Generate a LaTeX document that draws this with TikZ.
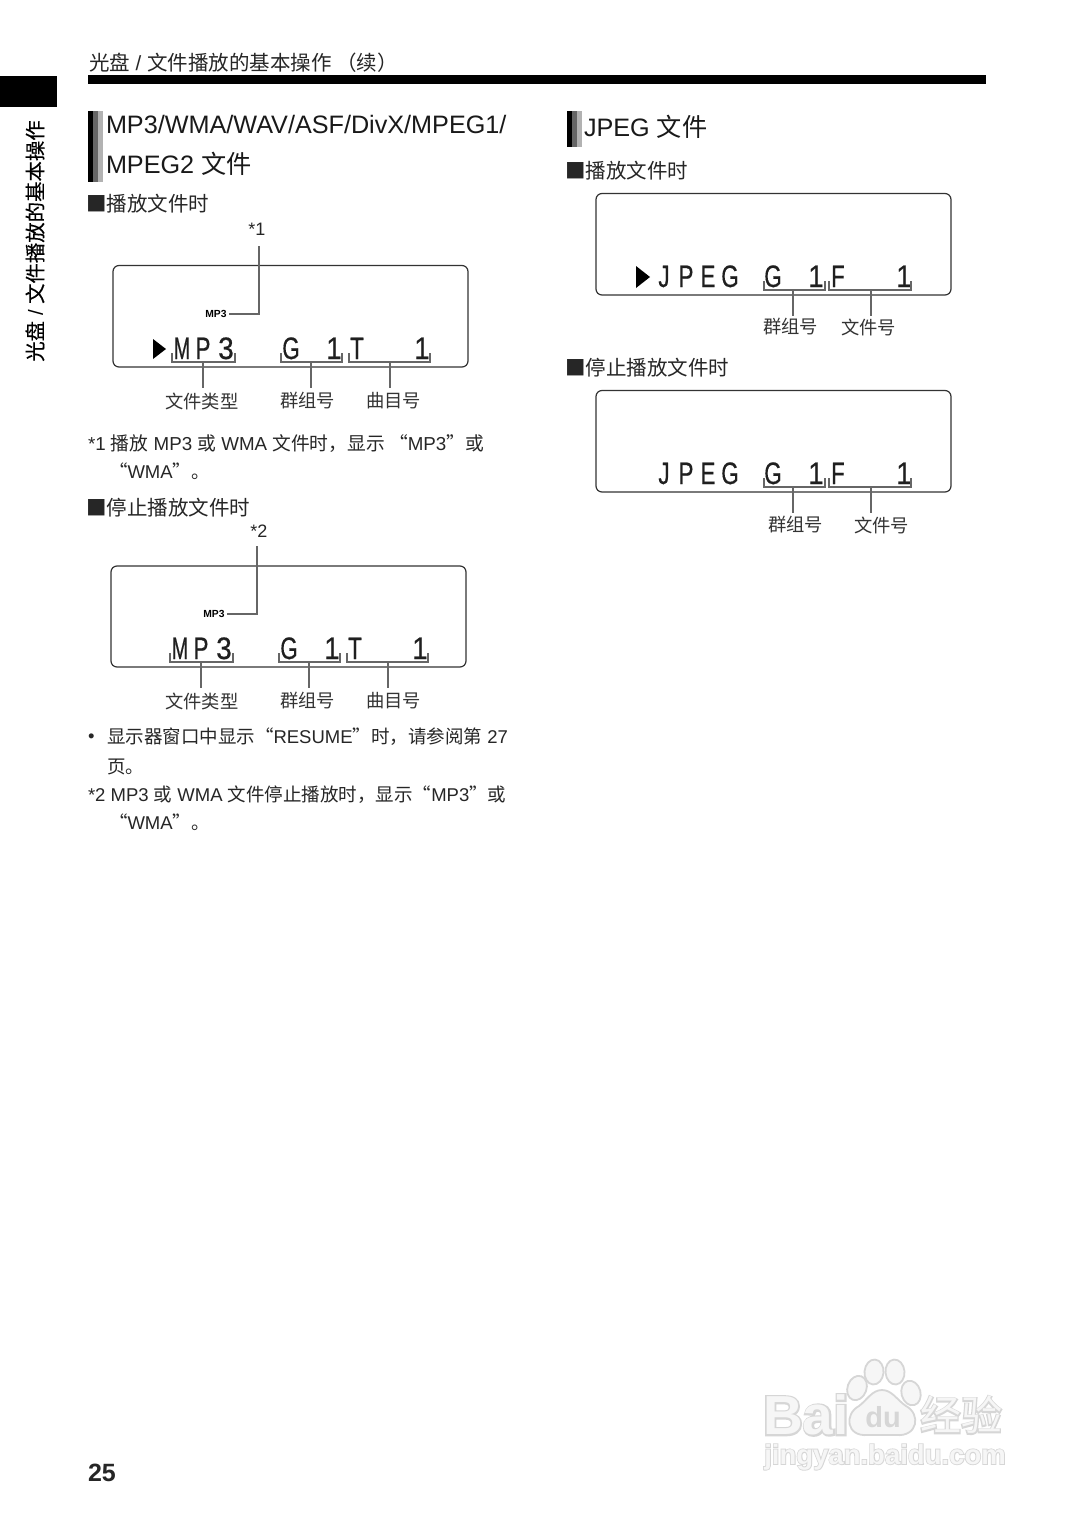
\documentclass[tikz,border=0pt]{standalone}
\usepackage{fontspec}
\setmainfont{Liberation Sans}
\newfontfamily\cjk{Noto Sans CJK SC}
\newfontfamily\cjkside[FakeBold=0.3]{Noto Sans CJK SC}
\newfontfamily\cjkfat[FakeBold=6]{Noto Sans CJK SC}
\newfontfamily\latfat[FakeBold=6,UprightFont=* Bold]{Liberation Sans}
\newfontfamily\lcdfont[FakeBold=0.6]{Liberation Sans}
\definecolor{lead}{HTML}{666666}
\definecolor{boxc}{HTML}{333333}
\definecolor{wm}{HTML}{D6D6D6}
\definecolor{wmin}{HTML}{F6F6F6}
\newcommand{\sz}[1]{\fontsize{#1}{#1}\selectfont}
\newcommand{\Z}[1]{{\cjk #1}}
\newcommand{\lm}[1]{\scalebox{0.64}[1]{#1}}
\newcommand{\lc}[1]{\scalebox{0.72}[1]{#1}}
\newcommand{\ld}[1]{\scalebox{0.9}[1]{#1}}
\tikzset{
  x=1pt,y=-1pt,
  txt/.style={anchor=west,inner sep=0pt,outer sep=0pt,text=black!85},
  lcdbox/.style={draw=boxc,line width=1.2pt,rounded corners=6pt},
  lcd/.style={anchor=base,inner sep=0pt,font=\sz{31}\lcdfont,text=black!88},
  lab/.style={anchor=center,inner sep=0pt,font=\sz{18.3}\cjk,text=black!80,yshift=-1pt,xshift=0.7pt},
  star/.style={anchor=center,inner sep=0pt,font=\sz{18},text=black!85},
  small/.style={anchor=center,inner sep=0pt,font=\sz{10.3}\bfseries},
  leader/.style={draw=lead,line width=1.6pt},
  head/.style={txt,font=\sz{25.2},text=black!90},
  sub/.style={txt,font=\sz{20.5}\cjk,yshift=-0.7pt},
  note/.style={txt,font=\sz{18.5},yshift=-0.7pt},
  tri/.style={fill=black,draw=none},
  wmt/.style={anchor=center,inner sep=0pt},
}
% #1 name #2 x1 #3 x2 #4 y-top #5 y-bottom
\newcommand{\brk}[5]{%
  \coordinate (#1a) at (#2,#4); \coordinate (#1b) at (#2,#5);
  \coordinate (#1c) at (#3,#5); \coordinate (#1d) at (#3,#4);
  \draw[leader] (#1a) -- (#1b) -- (#1c) -- (#1d);}
% #1 name #2 x #3 y-top #4 y-bottom
\newcommand{\ldr}[4]{%
  \coordinate (#1s) at (#2,#3); \coordinate (#1e) at (#2,#4);
  \draw[leader] (#1s) -- (#1e);}
\begin{document}
\begin{tikzpicture}
\useasboundingbox (0,0) rectangle (1074,1518);
\fill[white] (0,0) rectangle (1074,1518);

% header
\node[txt,font=\sz{20.5}] (hdr) at (89,63) {\Z{光盘} / \Z{文件播放的基本操作 （续）}};
\fill[black] (88,75) rectangle (986,84);
\fill[black] (0,76) rectangle (57,107);
\node[anchor=center,inner sep=0pt,font=\sz{20.4},rotate=90] (side) at (35,241) {{\cjkside 光盘} / {\cjkside 文件播放的基本操作}};

% heading bars
\fill[black] (88,111) rectangle (93,182);
\fill[black!60] (93,111) rectangle (98,182);
\fill[black!30] (98,111) rectangle (103,182);
\fill[black] (567,111) rectangle (572,147);
\fill[black!60] (572,111) rectangle (577,147);
\fill[black!30] (577,111) rectangle (582,147);

\node[head] (h1) at (106,124) {MP3/WMA/WAV/ASF/DivX/MPEG1/};
\node[head] (h2) at (106,164) {MPEG2 \Z{文件}};
\node[head] (h3) at (584,127) {JPEG \Z{文件}};

\node[sub] (s1) at (86,203) {■播放文件时};
\node[sub] (s2) at (86,507) {■停止播放文件时};
\node[sub] (s3) at (565,170) {■播放文件时};
\node[sub] (s4) at (565,367) {■停止播放文件时};

% display 1
\draw[lcdbox] (113,265.5) rectangle (468,367);
\fill[tri] (153,339) -- (166,349) -- (153,359) -- cycle;
\node[lcd] (a1) at (182,359) {\lm{M}};
\node[lcd] (a2) at (203,359) {\lc{P}};
\node[lcd] (a3) at (226,359) {\ld{3}};
\node[lcd] (a4) at (291,359) {\lc{G}};
\node[lcd] (a5) at (334,359) {\ld{1}};
\node[lcd] (a6) at (357,359) {\lc{T}};
\node[lcd] (a7) at (422,359) {\ld{1}};
\brk{ab1}{172}{235}{353}{362}
\brk{ab2}{281}{342}{353}{362}
\brk{ab3}{349}{430}{353}{362}
\ldr{al1}{203}{362}{388}
\ldr{al2}{311}{362}{388}
\ldr{al3}{390}{362}{388}
\node[lab] (at1) at (201,400) {文件类型};
\node[lab] (at2) at (307,400) {群组号};
\node[lab] (at3) at (393,400) {曲目号};
\node[small] (am) at (216,314) {MP3};
\node[star] (as) at (257,229) {*1};
\coordinate (am1) at (229,314);
\coordinate (am2) at (259,314);
\coordinate (am3) at (259,246);
\draw[leader] (am1) -- (am2) -- (am3);

% display 2
\draw[lcdbox] (111,566) rectangle (466,667);
\node[lcd] (b1) at (180,659) {\lm{M}};
\node[lcd] (b2) at (201,659) {\lc{P}};
\node[lcd] (b3) at (224,659) {\ld{3}};
\node[lcd] (b4) at (289,659) {\lc{G}};
\node[lcd] (b5) at (332,659) {\ld{1}};
\node[lcd] (b6) at (355,659) {\lc{T}};
\node[lcd] (b7) at (420,659) {\ld{1}};
\brk{bb1}{170}{233}{653}{662}
\brk{bb2}{279}{340}{653}{662}
\brk{bb3}{347}{428}{653}{662}
\ldr{bl1}{201}{662}{688}
\ldr{bl2}{309}{662}{688}
\ldr{bl3}{388}{662}{688}
\node[lab] (bt1) at (201,700) {文件类型};
\node[lab] (bt2) at (307,700) {群组号};
\node[lab] (bt3) at (393,700) {曲目号};
\node[small] (bm) at (214,614) {MP3};
\node[star] (bs) at (259,531) {*2};
\coordinate (bm1) at (227,614);
\coordinate (bm2) at (257,614);
\coordinate (bm3) at (257,546);
\draw[leader] (bm1) -- (bm2) -- (bm3);

% display 3
\draw[lcdbox] (596,193.5) rectangle (951,295);
\fill[tri] (636,266) -- (650,277) -- (636,288) -- cycle;
\node[lcd] (c1) at (664,287) {\lc{J}};
\node[lcd] (c2) at (686,287) {\lc{P}};
\node[lcd] (c3) at (708,287) {\lc{E}};
\node[lcd] (c4) at (730,287) {\lc{G}};
\node[lcd] (c5) at (773,287) {\lc{G}};
\node[lcd] (c6) at (816,287) {\ld{1}};
\node[lcd] (c7) at (838,287) {\lc{F}};
\node[lcd] (c8) at (904,287) {\ld{1}};
\brk{cb1}{764}{825}{281}{290}
\brk{cb2}{829}{911}{281}{290}
\ldr{cl1}{793}{290}{316}
\ldr{cl2}{871}{290}{316}
\node[lab] (ct1) at (790,326) {群组号};
\node[lab] (ct2) at (868,326) {文件号};

% display 4
\draw[lcdbox] (596,390.5) rectangle (951,492);
\node[lcd] (d1) at (664,484) {\lc{J}};
\node[lcd] (d2) at (686,484) {\lc{P}};
\node[lcd] (d3) at (708,484) {\lc{E}};
\node[lcd] (d4) at (730,484) {\lc{G}};
\node[lcd] (d5) at (773,484) {\lc{G}};
\node[lcd] (d6) at (816,484) {\ld{1}};
\node[lcd] (d7) at (838,484) {\lc{F}};
\node[lcd] (d8) at (904,484) {\ld{1}};
\brk{db1}{764}{825}{478}{487}
\brk{db2}{829}{911}{478}{487}
\ldr{dl1}{793}{487}{513}
\ldr{dl2}{871}{487}{513}
\node[lab] (dt1) at (795,524) {群组号};
\node[lab] (dt2) at (881,524) {文件号};

% notes
\node[note,font=\sz{18.75}] (n1) at (88,443) {*1 \Z{播放} MP3 \Z{或} WMA \Z{文件时，显示 “}MP3\Z{”或}};
\node[note] (n2) at (109,471) {\Z{“}WMA\Z{”。}};
\node[note] (n3) at (88,737) {•};
\node[note] (n4) at (107,736) {\Z{显示器窗口中显示“}RESUME\Z{”时，请参阅第} 27};
\node[note] (n5) at (107,766) {\Z{页。}};
\node[note] (n6) at (88,794) {*2 MP3 \Z{或} WMA \Z{文件停止播放时，显示“}MP3\Z{”或}};
\node[note] (n7) at (109,822) {\Z{“}WMA\Z{”。}};
\node[txt,font=\sz{25}\bfseries] (pg) at (88,1473) {25};

% watermark
\foreach \xx/\yy/\aa in {857/1388/-20,874/1372/-5,895/1372/5,911/1393/15}{
  \draw[wm,fill=wmin,line width=1.8pt,rotate around={\aa:(\xx,\yy)}] (\xx,\yy) ellipse (9.5 and 12.5);}
\node[wmt,font=\sz{55}\latfat,text=wm] (wa) at (806,1415) {Bai};
\node[wmt,font=\sz{55}\bfseries,text=wmin] (wb) at (806,1415) {Bai};
\draw[wm,fill=wmin,line width=1.8pt] (868,1435) .. controls (846,1437) and (844,1414) .. (859,1406) .. controls (867,1400) and (872,1390) .. (882,1390) .. controls (892,1390) and (897,1400) .. (906,1406) .. controls (921,1414) and (918,1437) .. (896,1435) -- cycle;
\node[wmt,font=\sz{29}\bfseries,text=wm] (wc) at (883,1417) {du};
\node[wmt,font=\sz{41}\cjkfat,text=wm] (wd) at (961,1415) {经验};
\node[wmt,font=\sz{41}\cjk,text=wmin] (we) at (961,1415) {经验};
\node[wmt,font=\sz{27.5}\latfat,text=wm] (wf) at (885,1457) {jingyan.baidu.com};
\node[wmt,font=\sz{27.5}\bfseries,text=wmin] (wg) at (885,1457) {jingyan.baidu.com};
\end{tikzpicture}
\end{document}
